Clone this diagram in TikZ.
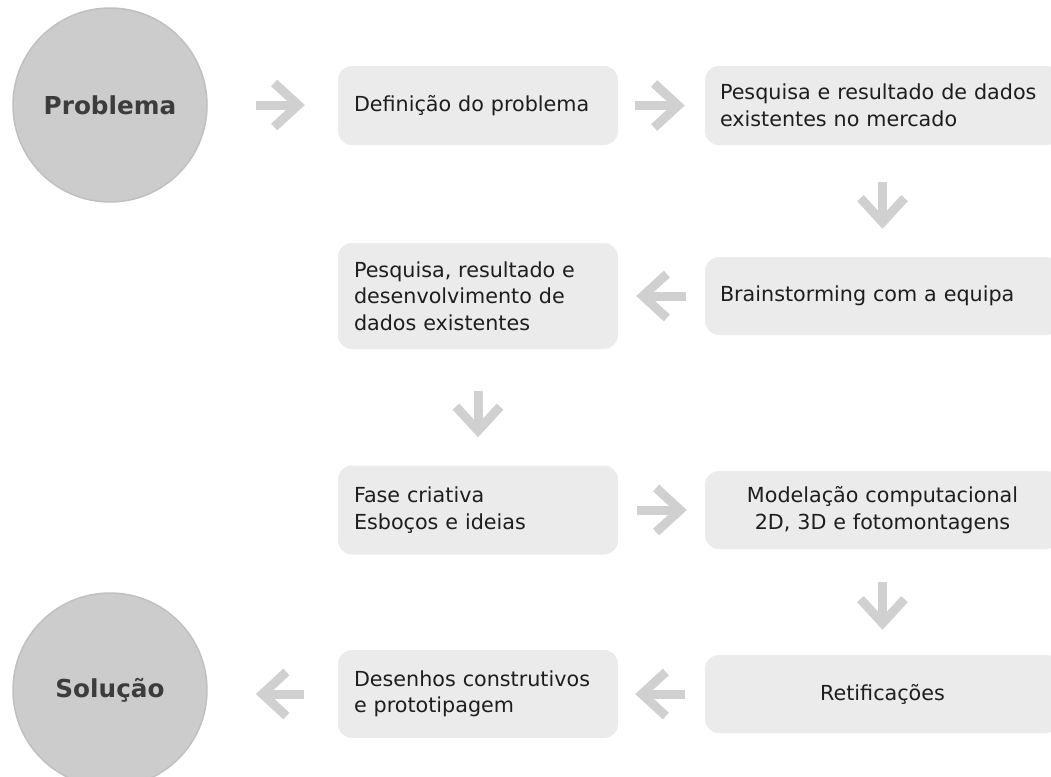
\documentclass[tikz,border=0pt]{standalone}
\usepackage{fontspec}
\setmainfont{DejaVu Sans}
\usetikzlibrary{arrows.meta}
\definecolor{boxgray}{HTML}{EBEBEB}
\definecolor{circfill}{HTML}{CCCCCC}
\definecolor{circline}{HTML}{C0C0C0}
\definecolor{arrgray}{HTML}{D0D0D0}
\definecolor{txt}{HTML}{1E1E1E}
\definecolor{ctxt}{HTML}{3C3C3C}
\begin{document}
\begin{tikzpicture}[x=1pt,y=-1pt,
  bodyfont/.style={font=\fontsize{20.7pt}{26.5pt}\selectfont, text=txt},
  lbox/.style={bodyfont, fill=boxgray, rounded corners=14pt, inner xsep=16pt, inner ysep=0pt,
     text width=248pt, align=left, minimum height=#1},
  rbox/.style={bodyfont, fill=boxgray, rounded corners=14pt, inner xsep=15pt, inner ysep=0pt,
     text width=325pt, align=left, minimum height=#1},
  cbox/.style={rbox=#1, align=center},
  endcirc/.style={circle, fill=circfill, draw=circline, line width=1.5pt, minimum size=194pt,
     inner sep=0pt, font=\fontsize{24.7pt}{30pt}\selectfont\bfseries, text=ctxt},
  flowarrow/.style={draw=arrgray, line width=9pt,
     -{Straight Barb[length=24pt,width=44pt,line width=9pt,sharp]}},
]
\useasboundingbox (0,0) rectangle (1051,776);

\node[endcirc] (prob) at (110,105) {Problema};
\node[endcirc] (sol) at (110,690) {Solução};

\node[lbox=79pt] (b1) at (478,105.5) {Definição do problema};
\node[rbox=79pt] (b2) at (882.5,105.5) {Pesquisa e resultado de dados\\existentes no mercado};
\node[rbox=78pt] (b3) at (882.5,296) {Brainstorming com a equipa};
\node[lbox=106pt] (b4) at (478,296) {Pesquisa, resultado e\\desenvolvimento de\\dados existentes};
\node[lbox=89pt] (b5) at (478,510) {Fase criativa\\Esboços e ideias};
\node[cbox=78pt] (b6) at (882.5,510) {Modelação computacional\\2D, 3D e fotomontagens};
\node[cbox=78pt] (b7) at (882.5,694) {Retificações};
\node[lbox=88pt] (b8) at (478,694) {Desenhos construtivos\\e prototipagem};

\draw[flowarrow, shorten <=48pt, shorten >=33pt] (prob.east) -- (prob.east -| b1.west);
\draw[flowarrow, shorten <=17pt, shorten >=20pt] (b1.east) -- (b1.east -| b2.west);
\draw[flowarrow, shorten <=37pt, shorten >=28pt] (b2.south) -- (b3.north);
\draw[flowarrow, shorten <=19pt, shorten >=18pt] (b3.west) -- (b3.west -| b4.east);
\draw[flowarrow, shorten <=42pt, shorten >=28pt] (b4.south) -- (b5.north);
\draw[flowarrow, shorten <=19pt, shorten >=18pt] (b5.east) -- (b5.east -| b6.west);
\draw[flowarrow, shorten <=33pt, shorten >=25pt] (b6.south) -- (b7.north);
\draw[flowarrow, shorten <=20pt, shorten >=17pt] (b7.west) -- (b7.west -| b8.east);
\draw[flowarrow, shorten <=34pt, shorten >=48pt] (b8.west) -- (b8.west -| sol.east);
\end{tikzpicture}
\end{document}
